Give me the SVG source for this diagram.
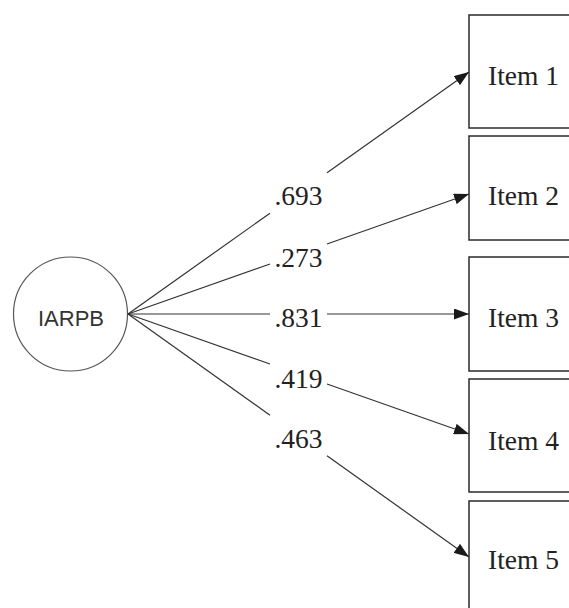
<svg xmlns="http://www.w3.org/2000/svg" width="569" height="608" viewBox="0 0 569 608">
<defs>
<marker id="arr" markerWidth="15" markerHeight="11" refX="15" refY="5.5" orient="auto" markerUnits="userSpaceOnUse">
<path d="M0,0 L15,5.5 L0,11 z" fill="#1a1a1a"/>
</marker>
<style>
.box{fill:#fff;stroke:#2a2a2a;stroke-width:1.5}
.item{font-family:"Liberation Serif","Times New Roman",serif;font-size:27.5px;fill:#222}
.lbl{font-family:"Liberation Serif","Times New Roman",serif;font-size:27.5px;fill:#222;text-anchor:middle}
.c{stroke:#333;stroke-width:1.2;fill:none}
</style>
</defs>
<rect width="569" height="608" fill="#fff"/>
<g id="IARPB">
<circle cx="70.5" cy="314" r="57" fill="#fff" stroke="#555" stroke-width="1.2"/>
<text x="71" y="326" text-anchor="middle" font-family="'Liberation Sans',Arial,sans-serif" font-size="22" fill="#333">IARPB</text>
</g>
<g id="item1"><rect class="box" x="469" y="15" width="120" height="113"/><text class="item" x="488" y="85">Item 1</text></g>
<g id="item2"><rect class="box" x="469" y="136" width="120" height="104"/><text class="item" x="488" y="205">Item 2</text></g>
<g id="item3"><rect class="box" x="469" y="257" width="120" height="114"/><text class="item" x="488" y="327">Item 3</text></g>
<g id="item4"><rect class="box" x="469" y="379" width="120" height="113"/><text class="item" x="488" y="450">Item 4</text></g>
<g id="item5"><rect class="box" x="469" y="501" width="120" height="120"/><text class="item" x="488" y="569">Item 5</text></g>
<g id="connectors">
<line class="c" x1="128" y1="314" x2="270" y2="213.2"/>
<line class="c" x1="327" y1="172.8" x2="469" y2="72" marker-end="url(#arr)"/>
<line class="c" x1="128" y1="314" x2="270" y2="264"/>
<line class="c" x1="327" y1="244" x2="469" y2="194" marker-end="url(#arr)"/>
<line class="c" x1="128" y1="314" x2="270" y2="314"/>
<line class="c" x1="327" y1="314" x2="469" y2="314" marker-end="url(#arr)"/>
<line class="c" x1="128" y1="314" x2="270" y2="364"/>
<line class="c" x1="327" y1="384" x2="469" y2="434" marker-end="url(#arr)"/>
<line class="c" x1="128" y1="314" x2="270" y2="415.2"/>
<line class="c" x1="327" y1="455.8" x2="469" y2="557" marker-end="url(#arr)"/>
<text class="lbl" x="298.5" y="205">.693</text>
<text class="lbl" x="298.5" y="267">.273</text>
<text class="lbl" x="298.5" y="327">.831</text>
<text class="lbl" x="298.5" y="388">.419</text>
<text class="lbl" x="298.5" y="448">.463</text>
</g>
</svg>
